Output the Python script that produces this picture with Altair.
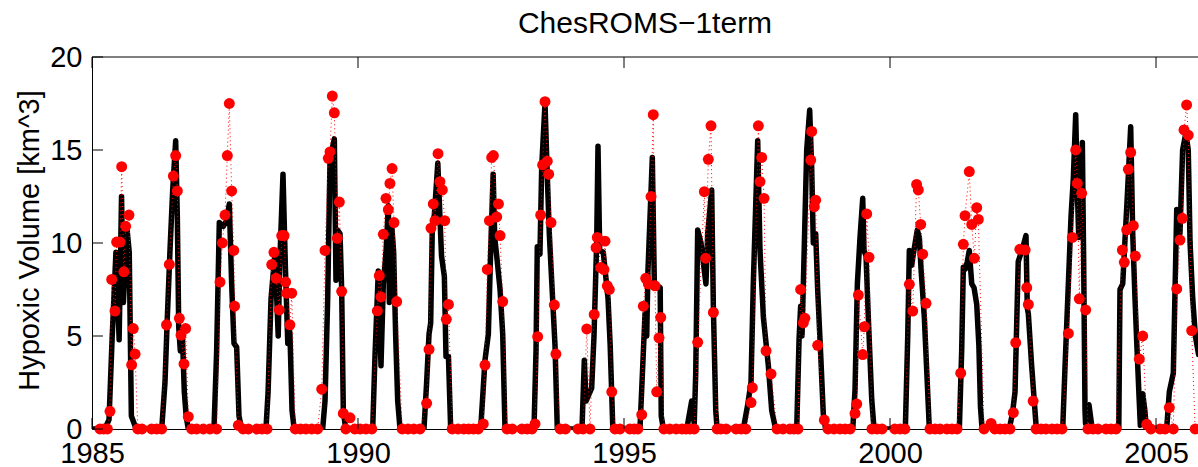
import altair as alt
import pandas as pd

YEARS = list(range(1985, 2006))

# Model (black line): fraction of year and hypoxic volume, one row per year
MODEL_FRAC = [
    [0.24, 0.32, 0.38, 0.45, 0.51, 0.555, 0.59, 0.66, 0.70, 0.74, 0.83],
    [0.31, 0.372, 0.416, 0.466, 0.516, 0.573, 0.604, 0.63, 0.66, 0.70, 0.735, 0.77, 0.81],
    [0.293, 0.343, 0.393, 0.468, 0.531, 0.581, 0.625, 0.669, 0.719, 0.763, 0.813],
    [0.27, 0.31, 0.365, 0.44, 0.50, 0.53, 0.59, 0.637, 0.68, 0.72, 0.76, 0.80],
    [0.336, 0.38, 0.43, 0.474, 0.555, 0.586, 0.611, 0.662, 0.693, 0.724, 0.768],
    [0.276, 0.32, 0.382, 0.432, 0.476, 0.526, 0.57, 0.589, 0.633, 0.67, 0.708, 0.746, 0.79],
    [0.24, 0.29, 0.335, 0.366, 0.397, 0.435, 0.50, 0.54, 0.57, 0.623, 0.654, 0.70, 0.742],
    [0.306, 0.387, 0.45, 0.494, 0.54, 0.57, 0.607, 0.67, 0.72, 0.763],
    [0.308, 0.346, 0.37, 0.42, 0.453, 0.515, 0.558, 0.596, 0.64, 0.703, 0.746],
    [0.21, 0.254, 0.286, 0.392, 0.436, 0.486, 0.511, 0.543, 0.61, 0.70, 0.74, 0.79],
    [0.30, 0.395, 0.427, 0.45, 0.532, 0.57, 0.68, 0.70, 0.74],
    [0.18, 0.272, 0.32, 0.348, 0.385, 0.447, 0.51, 0.54, 0.573, 0.648, 0.68, 0.724, 0.75],
    [0.243, 0.325, 0.387, 0.43, 0.513, 0.556, 0.62, 0.713, 0.776, 0.85],
    [0.246, 0.29, 0.32, 0.346, 0.434, 0.49, 0.528, 0.558, 0.603, 0.64, 0.697, 0.746, 0.79],
    [0.30, 0.342, 0.386, 0.436, 0.487, 0.511, 0.549, 0.592, 0.656, 0.70],
    [0.288, 0.333, 0.363, 0.408, 0.438, 0.513, 0.551, 0.583, 0.645, 0.70, 0.739],
    [0.303, 0.347, 0.378, 0.415, 0.453, 0.49, 0.536, 0.579, 0.63, 0.67, 0.70, 0.73],
    [0.20, 0.255, 0.30, 0.35, 0.41, 0.50, 0.556, 0.58, 0.60, 0.66, 0.75],
    [0.246, 0.29, 0.352, 0.402, 0.446, 0.49, 0.52, 0.547, 0.577, 0.615, 0.64, 0.665, 0.675, 0.74, 0.80],
    [0.30, 0.315, 0.323, 0.374, 0.417, 0.46, 0.524, 0.562, 0.605, 0.64, 0.68, 0.705, 0.75, 0.79, 0.82],
    [0.20, 0.25, 0.325, 0.389, 0.42, 0.45, 0.50, 0.56, 0.606, 0.64, 0.69, 0.74, 0.80],
]
MODEL_VOL = [
    [0, 0.5, 5.0, 9.5, 4.8, 12.5, 6.8, 10.7, 9.5, 0.7, 0],
    [0, 2.5, 6, 9.6, 12.8, 15.5, 11.4, 5.5, 4.2, 5.0, 2.0, 0.7, 0],
    [0, 4.2, 11.1, 10.9, 11.2, 12.1, 7.8, 4.6, 4.4, 0.7, 0],
    [0, 2, 7, 9.5, 5.0, 9, 13.7, 8.5, 4.6, 5.2, 1, 0],
    [0, 1.5, 7, 14.5, 15.6, 8, 10.7, 10.5, 7.5, 1, 0],
    [0, 4, 8.5, 3.4, 7.8, 9.5, 12, 6.8, 11, 9.5, 5, 1.5, 0],
    [0, 2.5, 5.1, 5.7, 10.9, 11.5, 14.3, 11.4, 9.3, 8.2, 3.9, 3.9, 0],
    [0, 3.7, 5.1, 9.6, 13.7, 10.3, 9.3, 7.5, 5.1, 0],
    [0, 4.2, 9.8, 9.4, 14.1, 17.5, 13.6, 10.5, 8.0, 4.5, 0],
    [0, 3.7, 1.5, 2.2, 5, 10, 15.2, 9.6, 9.5, 7.0, 4.5, 0],
    [0, 6.2, 5.0, 8.5, 14.6, 7.8, 7.6, 0.7, 0],
    [0, 1.5, 0.3, 3, 10.7, 10.0, 8.5, 7.8, 10.5, 12.85, 6.5, 1, 0],
    [0, 1.3, 2.5, 7.8, 15.5, 9.6, 6.0, 3.4, 1.0, 0],
    [0, 4.8, 6.6, 5.0, 15, 17.15, 14, 10, 10.5, 7.5, 4, 0.8, 0],
    [0, 2.1, 7.8, 10.3, 12.4, 9.6, 9.3, 6.0, 1.6, 0],
    [0, 5, 9.6, 8.8, 9.4, 10.7, 10.3, 8.6, 6.0, 2.5, 0],
    [0, 4.2, 8.7, 8.6, 9.0, 9.6, 7.8, 7.6, 6.7, 4.5, 1.2, 0],
    [0, 0.2, 0.8, 2.0, 9.0, 9.8, 10.4, 6.5, 6.2, 3.5, 0],
    [0, 3.4, 7.8, 11.4, 13.5, 16.9, 13, 10.3, 10.5, 15.4, 9, 1.0, 0.3, 1.3, 0],
    [0, 5, 7.5, 7.8, 10.2, 12.5, 16.25, 10.5, 7.0, 4.5, 1.8, 0.2, 1.9, 1.0, 0],
    [0, 2.0, 3.0, 11.8, 11.6, 10.5, 15, 15.9, 15, 10, 7, 5, 4],
]

# Observations (red dots): fraction of year and hypoxic volume, one row per year
OBS_FRAC = [
    [0.15, 0.22, 0.29, 0.338, 0.37, 0.432, 0.463, 0.526, 0.558, 0.60, 0.633, 0.695, 0.745, 0.776, 0.81, 0.86, 0.94],
    [0.12, 0.216, 0.31, 0.40, 0.454, 0.529, 0.573, 0.604, 0.642, 0.673, 0.729, 0.76, 0.81, 0.873, 0.967],
    [0.093, 0.218, 0.343, 0.406, 0.45, 0.50, 0.544, 0.581, 0.625, 0.665, 0.68, 0.75, 0.84, 0.94],
    [0.10, 0.195, 0.29, 0.378, 0.42, 0.46, 0.52, 0.566, 0.61, 0.64, 0.66, 0.72, 0.754, 0.82, 0.92],
    [0.02, 0.13, 0.24, 0.318, 0.38, 0.442, 0.474, 0.517, 0.555, 0.611, 0.649, 0.693, 0.724, 0.77, 0.85, 0.94],
    [0.04, 0.15, 0.26, 0.363, 0.40, 0.432, 0.476, 0.526, 0.57, 0.60, 0.64, 0.677, 0.727, 0.83, 0.94],
    [0.05, 0.165, 0.29, 0.335, 0.372, 0.415, 0.447, 0.504, 0.54, 0.585, 0.63, 0.66, 0.70, 0.77, 0.88, 0.99],
    [0.08, 0.17, 0.26, 0.355, 0.387, 0.43, 0.47, 0.513, 0.545, 0.607, 0.64, 0.67, 0.72, 0.80, 0.90],
    [0.08, 0.18, 0.27, 0.327, 0.377, 0.433, 0.47, 0.515, 0.558, 0.584, 0.628, 0.69, 0.72, 0.80, 0.90],
    [0.135, 0.23, 0.30, 0.36, 0.44, 0.474, 0.498, 0.562, 0.624, 0.643, 0.686, 0.724, 0.77, 0.83, 0.925],
    [0.11, 0.19, 0.26, 0.333, 0.363, 0.408, 0.457, 0.508, 0.55, 0.583, 0.615, 0.658, 0.69, 0.75, 0.86, 0.98],
    [0.09, 0.165, 0.24, 0.32, 0.385, 0.51, 0.535, 0.585, 0.635, 0.68, 0.75, 0.82, 0.92],
    [0.105, 0.20, 0.29, 0.387, 0.412, 0.525, 0.556, 0.588, 0.632, 0.67, 0.763, 0.876, 0.99],
    [0.12, 0.195, 0.27, 0.32, 0.37, 0.40, 0.51, 0.528, 0.577, 0.603, 0.64, 0.765, 0.834, 0.947],
    [0.06, 0.155, 0.25, 0.342, 0.374, 0.405, 0.487, 0.517, 0.562, 0.605, 0.66, 0.756, 0.85],
    [0.09, 0.19, 0.28, 0.363, 0.427, 0.50, 0.532, 0.577, 0.614, 0.677, 0.75, 0.846, 0.94],
    [0.07, 0.165, 0.26, 0.329, 0.378, 0.41, 0.49, 0.536, 0.585, 0.63, 0.66, 0.767, 0.90, 0.97],
    [0.07, 0.16, 0.255, 0.318, 0.363, 0.44, 0.54, 0.57, 0.60, 0.69, 0.744, 0.84, 0.93],
    [0.045, 0.14, 0.233, 0.352, 0.427, 0.49, 0.52, 0.558, 0.603, 0.678, 0.72, 0.815, 0.91],
    [0.06, 0.154, 0.248, 0.367, 0.404, 0.449, 0.48, 0.524, 0.573, 0.611, 0.686, 0.75, 0.825, 0.905],
    [0.075, 0.17, 0.25, 0.325, 0.389, 0.45, 0.495, 0.526, 0.575, 0.606, 0.67, 0.735],
]
OBS_VOL = [
    [0, 0, 0, 0.95, 8.04, 6.34, 10.05, 10.05, 14.1, 8.45, 10.9, 11.5, 3.45, 5.4, 4.03, 0, 0],
    [0, 0, 0, 5.6, 8.85, 13.6, 14.7, 12.8, 5.95, 5.05, 3.5, 5.4, 0.66, 0, 0],
    [0, 0, 0, 7.9, 10.0, 11.5, 14.7, 17.5, 12.8, 9.6, 6.6, 0.2, 0, 0],
    [0, 0, 0, 8.84, 9.5, 8.1, 6.4, 10.4, 10.4, 7.9, 7.3, 5.6, 7.3, 0, 0],
    [0, 0, 0, 2.14, 9.6, 14.55, 14.9, 17.9, 17.0, 10.25, 12.2, 7.4, 0.84, 0, 0.6, 0],
    [0, 0, 0, 6.35, 8.25, 7.1, 10.47, 12.4, 11.8, 13.2, 14.0, 11.1, 6.85, 0, 0],
    [0, 0, 1.38, 4.28, 10.8, 12.1, 11.2, 14.8, 13.3, 12.85, 11.2, 5.9, 6.7, 0, 0, 0],
    [0, 0, 0, 0.27, 3.44, 8.58, 11.2, 14.6, 14.7, 11.4, 12.1, 10.4, 6.85, 0, 0],
    [0, 0, 0, 0.27, 4.96, 11.5, 14.2, 17.6, 14.4, 13.7, 11.1, 6.67, 4.03, 0, 0],
    [0, 0, 5.38, 0, 6.16, 9.75, 10.3, 8.68, 8.57, 10.1, 7.7, 7.5, 2.0, 0, 0],
    [0, 0, 0, 0.77, 6.6, 8.1, 7.8, 12.5, 16.9, 7.7, 2.0, 4.9, 6.0, 0, 0, 0],
    [0, 0, 0, 0, 4.66, 12.76, 9.18, 14.5, 16.3, 6.27, 0, 0, 0],
    [0, 0, 0, 1.42, 2.22, 16.3, 13.3, 14.6, 12.4, 4.2, 2.96, 0, 0],
    [0, 0, 0, 7.5, 5.7, 5.95, 14.46, 16.0, 11.95, 12.3, 4.5, 0.48, 0, 0],
    [0, 0, 0, 0.84, 1.34, 7.2, 4.0, 5.5, 11.56, 9.23, 0, 0, 0],
    [0, 0, 0, 7.78, 6.34, 13.15, 12.85, 11.0, 9.4, 6.76, 0, 0, 0],
    [0, 0, 0, 3.0, 9.93, 11.47, 13.84, 11.0, 9.18, 11.9, 11.27, 0, 0.3, 0],
    [0, 0, 0, 0.88, 4.64, 9.66, 9.62, 7.6, 6.7, 1.5, 0, 0, 0],
    [0, 0, 0, 5.14, 10.3, 15.0, 13.2, 7.0, 12.67, 6.4, 0, 0, 0],
    [0, 0, 0, 9.62, 8.96, 10.7, 13.96, 14.87, 10.93, 9.3, 3.76, 5.0, 0.25, 0],
    [0, 0, 1.15, 0, 7.53, 10.16, 11.33, 16.08, 17.42, 15.8, 5.29, 0],
]

X_TICKS = [1985, 1990, 1995, 2000, 2005]
Y_TICKS = [0, 5, 10, 15, 20]
X_DOMAIN = [1985, 2005.789]
Y_DOMAIN = [0, 20]

rows_m = [{"t": 1985.0, "v": 0.0, "i": 0}]
for yr, fr, vs in zip(YEARS, MODEL_FRAC, MODEL_VOL):
    assert len(fr) == len(vs), ("model", yr, len(fr), len(vs))
    for f, v in zip(fr, vs):
        rows_m.append({"t": yr + f, "v": v, "i": len(rows_m)})
rows_o = []
for yr, fr, vs in zip(YEARS, OBS_FRAC, OBS_VOL):
    assert len(fr) == len(vs), ("obs", yr, len(fr), len(vs))
    for f, v in zip(fr, vs):
        rows_o.append({"t": yr + f, "v": v, "i": len(rows_o)})

model_df = pd.DataFrame(rows_m)
obs_df = pd.DataFrame(rows_o)

FONT = "Liberation Sans"
W, H = 1106, 372

x_axis = alt.Axis(values=X_TICKS, format="d", labelFont=FONT, labelFontSize=29,
                  labelColor="black", labelFlush=False, labelOverlap=False,
                  labelPadding=10, tickSize=0, domainColor="black", domainWidth=1,
                  grid=False, title="")
y_axis = alt.Axis(values=Y_TICKS, labelFont=FONT, labelFontSize=29, labelColor="black",
                  labelPadding=10, labelOverlap=False, labelFlush=False, tickSize=0,
                  domainColor="black", domainWidth=1, grid=False,
                  title="Hypoxic Volume [km^3]", titleFont=FONT, titleFontSize=29,
                  titleFontWeight="normal", titleColor="black", titleAngle=270,
                  titleAlign="center", titleBaseline="middle", titleX=-63, titleY=183)

X = alt.X("t:Q", scale=alt.Scale(domain=X_DOMAIN, nice=False, zero=False), axis=x_axis)
Y = alt.Y("v:Q", scale=alt.Scale(domain=Y_DOMAIN, nice=False, zero=False), axis=y_axis)

model_line = alt.Chart(model_df).mark_line(
    color="black", strokeWidth=5.5, strokeJoin="round", strokeCap="round", clip=True
).encode(x=X, y=Y, order="i:Q")

obs_line = alt.Chart(obs_df).mark_line(
    color="red", strokeWidth=1, strokeDash=[1, 3], clip=True
).encode(x=X, y=Y, order="i:Q")

obs_pts = alt.Chart(obs_df).mark_circle(
    color="red", size=120, opacity=1
).encode(x=X, y=Y)

xt_df = pd.DataFrame({"t": X_TICKS})
yt_df = pd.DataFrame({"v": Y_TICKS})

ticks_bottom = alt.Chart(xt_df).mark_rule(color="black", strokeWidth=1).encode(
    x=X, y=alt.value(H), y2=alt.value(H - 11))
ticks_top = alt.Chart(xt_df).mark_rule(color="black", strokeWidth=1).encode(
    x=X, y=alt.value(0), y2=alt.value(11))
ticks_left = alt.Chart(yt_df).mark_rule(color="black", strokeWidth=1).encode(
    y=Y, x=alt.value(0), x2=alt.value(11))
top_line = alt.Chart(pd.DataFrame({"k": [0]})).mark_rule(color="black", strokeWidth=1).encode(
    x=alt.value(0), x2=alt.value(W), y=alt.value(0))

chart = alt.layer(
    model_line, obs_line, obs_pts, ticks_bottom, ticks_top, ticks_left, top_line
).properties(
    width=W, height=H,
    title=alt.TitleParams(text="ChesROMS\u22121term", font=FONT, fontSize=30,
                          fontWeight="normal", color="black", anchor="middle",
                          baseline="alphabetic", offset=10, dy=30),
    padding={"left": 92, "top": 57, "right": 0, "bottom": 38},
    autosize=alt.AutoSizeParams(type="none"),
    background="white",
).configure_view(strokeWidth=0)

chart.save("out.html", embed_options={"renderer": "svg", "actions": False})
